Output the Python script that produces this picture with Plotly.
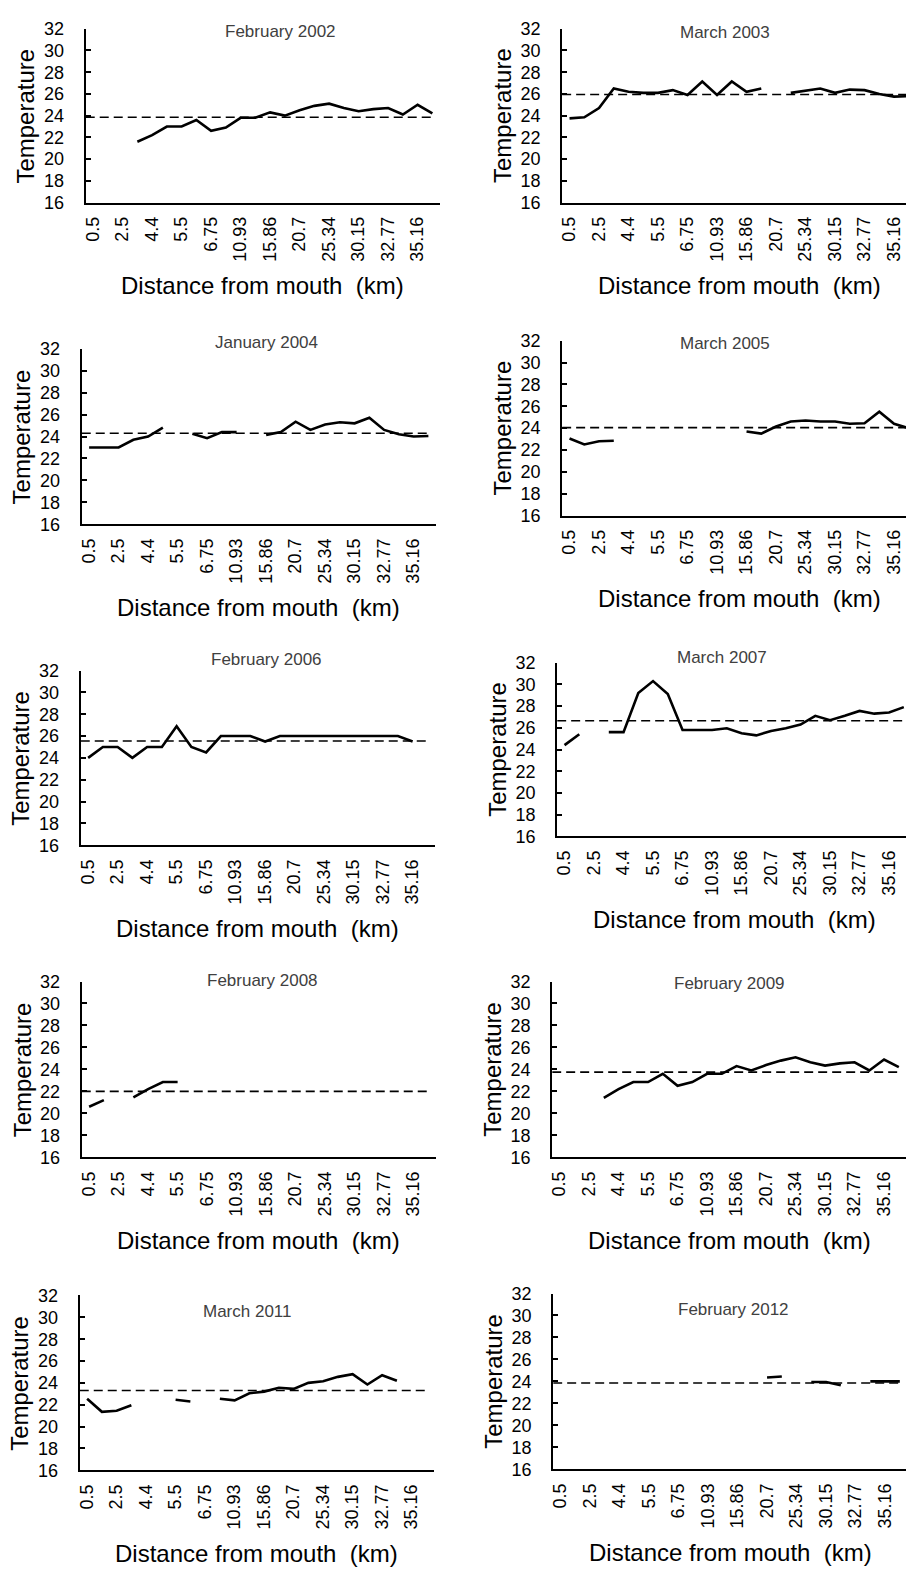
import plotly.graph_objects as go

# ---------------- data ----------------
n_stations = 24
stations = list(range(n_stations))
tick_labels = ["0.5", "2.5", "4.4", "5.5", "6.75", "10.93", "15.86",
               "20.7", "25.34", "30.15", "32.77", "35.16"]

N = None
titles = ["February 2002", "March 2003", "January 2004", "March 2005",
          "February 2006", "March 2007", "February 2008", "February 2009",
          "March 2011", "February 2012"]

feb2002 = [N, N, N, 21.6, 22.2, 23.0, 23.0, 23.6, 22.6, 22.9, 23.8, 23.8,
           24.3, 24.0, 24.5, 24.9, 25.1, 24.7, 24.4, 24.6, 24.7, 24.1, 25.0, 24.2]
mar2003 = [23.75, 23.85, 24.7, 26.5, 26.2, 26.1, 26.1, 26.35, 25.9, 27.15, 25.9, 27.15,
           26.2, 26.5, N, 26.1, 26.3, 26.5, 26.1, 26.4, 26.35, 26.0, 25.75, 25.8]
jan2004 = [23.0, 23.0, 23.0, 23.7, 24.0, 24.8, N, 24.25, 23.85, 24.4, 24.4, N,
           24.15, 24.4, 25.35, 24.6, 25.1, 25.3, 25.2, 25.7, 24.6, 24.2, 24.0, 24.05]
mar2005 = [23.05, 22.5, 22.8, 22.85, N, N, N, N, N, N, N, N,
           23.7, 23.5, 24.15, 24.6, 24.7, 24.6, 24.6, 24.4, 24.45, 25.5, 24.4, 24.0]
feb2006 = [24.0, 25.0, 25.0, 24.0, 25.0, 25.0, 26.9, 25.0, 24.5, 26.0, 26.0, 26.0,
           25.5, 26.0, 26.0, 26.0, 26.0, 26.0, 26.0, 26.0, 26.0, 26.0, 25.5, N]
mar2007 = [24.4, 25.4, N, 25.6, 25.6, 29.2, 30.3, 29.1, 25.8, 25.8, 25.8, 25.95,
           25.5, 25.3, 25.7, 25.95, 26.3, 27.1, 26.7, 27.1, 27.55, 27.3, 27.4, 27.9]
feb2008 = [20.6, 21.2, N, 21.45, 22.2, 22.85, 22.85, N, N, N, N, N,
           N, N, N, N, N, N, N, N, N, N, N, N]
feb2009 = [N, N, N, 21.4, 22.2, 22.85, 22.85, 23.6, 22.5, 22.85, 23.6, 23.6,
           24.3, 23.9, 24.4, 24.8, 25.1, 24.65, 24.35, 24.55, 24.65, 23.9, 24.9, 24.2]
mar2011 = [22.55, 21.35, 21.45, 21.95, N, N, 22.45, 22.3, N, 22.55, 22.4, 23.05,
           23.2, 23.55, 23.45, 24.0, 24.15, 24.55, 24.8, 23.85, 24.7, 24.2, N, N]
feb2012 = [N, N, N, N, N, N, N, N, N, N, N, N,
           N, N, 24.35, 24.45, N, 23.95, 23.95, 23.65, N, 24.0, 24.0, 24.0]

series = [feb2002, mar2003, jan2004, mar2005, feb2006,
          mar2007, feb2008, feb2009, mar2011, feb2012]
means = [23.85, 25.95, 24.3, 24.05, 25.55, 26.65, 22.0, 23.75, 23.3, 23.85]

y_ticks = list(range(16, 33, 2))

# ---------------- layout geometry (pixels) ----------------
W, H = 906, 1578
CAT_PX = 14.8
# (axis left x, top y, bottom y, title center x, title center y)
panels = [
    (83, 19, 195, 278, 22),
    (561, 19, 195, 724, 23),
    (79, 343, 521, 264, 337),
    (561, 335, 512, 724, 338),
    (78, 669, 846, 264, 658),
    (556, 661, 837, 721, 656),
    (79, 984, 1162, 260, 983),
    (551, 984, 1162, 729, 986),
    (77, 1302, 1479, 245, 1318),
    (552, 1300, 1478, 733, 1316),
]

FONT = "Arial, Liberation Sans, sans-serif"
fig = go.Figure()
annotations = []
layout = {}

for k, (x0, top, bot, tx, ty) in enumerate(panels):
    idx = "" if k == 0 else str(k + 1)
    xa, ya = "x" + idx, "y" + idx
    nominal_right = x0 + n_stations * CAT_PX
    x1 = min(nominal_right, W)
    xr0 = -0.5
    xr1 = xr0 + (x1 - x0) / CAT_PX

    fig.add_trace(go.Scatter(
        x=stations, y=series[k], mode="lines", xaxis=xa, yaxis=ya,
        line=dict(color="black", width=2.6), connectgaps=False,
        showlegend=False, hoverinfo="x+y"))
    fig.add_trace(go.Scatter(
        x=[xr0, stations[-1]], y=[means[k], means[k]], mode="lines",
        xaxis=xa, yaxis=ya,
        line=dict(color="black", width=1.6, dash="9px,5px"),
        showlegend=False, hoverinfo="y"))

    layout["xaxis" + idx] = dict(
        domain=[x0 / W, x1 / W], anchor=ya, range=[xr0, xr1],
        tickmode="array", tickvals=stations[::2], ticktext=tick_labels,
        tickangle=-90, ticks="", showline=True, linecolor="black", linewidth=2,
        showgrid=False, zeroline=False, ticklabelstandoff=5,
        tickfont=dict(family=FONT, size=18, color="black"), fixedrange=True)
    layout["yaxis" + idx] = dict(
        domain=[1 - bot / H, 1 - top / H], anchor=xa, range=[16, 32],
        tickmode="array", tickvals=y_ticks, ticks="inside", ticklen=5,
        tickwidth=1.5, tickcolor="black",
        showline=True, linecolor="black", linewidth=2, showgrid=False,
        zeroline=False, ticklabelstandoff=16,
        tickfont=dict(family=FONT, size=18, color="black"), fixedrange=True)

    # panel title
    annotations.append(dict(
        text=titles[k], x=tx / W, y=1 - ty / H, xref="paper", yref="paper",
        xanchor="center", yanchor="middle", showarrow=False,
        font=dict(family=FONT, size=17, color="#404040")))
    # y axis title
    annotations.append(dict(
        text="Temperature", x=(x0 - 60) / W, y=1 - (top + bot) / 2 / H,
        xref="paper", yref="paper", xanchor="center", yanchor="middle",
        textangle=-90, showarrow=False,
        font=dict(family=FONT, size=24, color="black")))
    # x axis title
    annotations.append(dict(
        text="Distance from mouth\u00a0 (km)", x=(x0 + nominal_right) / 2 / W,
        y=1 - (bot + 84) / H, xref="paper", yref="paper",
        xanchor="center", yanchor="middle", showarrow=False,
        font=dict(family=FONT, size=24, color="black")))

fig.update_layout(
    width=W, height=H, margin=dict(l=0, r=0, t=0, b=0),
    paper_bgcolor="white", plot_bgcolor="white",
    annotations=annotations, showlegend=False, **layout)

fig.write_html("out.html", config={"displayModeBar": False})
